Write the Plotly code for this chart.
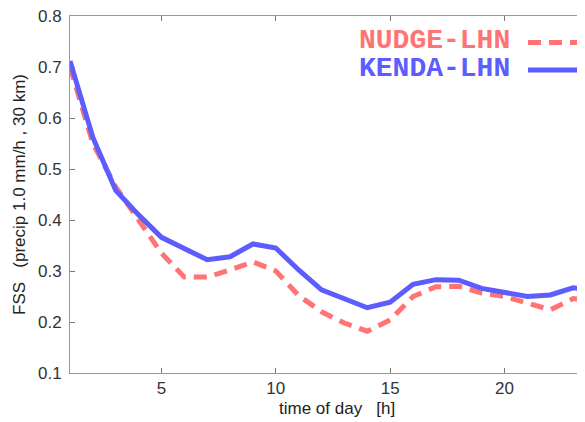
import plotly.graph_objects as go

hours = list(range(1, 25))
nudge_lhn = [0.700, 0.550, 0.465, 0.400, 0.335, 0.288, 0.288, 0.302, 0.318, 0.300,
             0.252, 0.220, 0.198, 0.182, 0.204, 0.250, 0.269, 0.270, 0.257, 0.250,
             0.236, 0.224, 0.246, 0.242]
kenda_lhn = [0.712, 0.562, 0.458, 0.410, 0.366, 0.345, 0.322, 0.328, 0.353, 0.345,
             0.302, 0.263, 0.245, 0.228, 0.239, 0.274, 0.283, 0.282, 0.266, 0.258,
             0.250, 0.253, 0.267, 0.262]
series_names = ["NUDGE-LHN", "KENDA-LHN"]
red = "#FF7373"
blue = "#5C5CFF"

fig = go.Figure()
fig.add_trace(go.Scatter(x=hours, y=nudge_lhn, mode="lines", name=series_names[0],
                         line=dict(color=red, width=5, dash="13px,8px"), showlegend=False))
fig.add_trace(go.Scatter(x=hours, y=kenda_lhn, mode="lines", name=series_names[1],
                         line=dict(color=blue, width=5), showlegend=False))

tickfont = dict(family="Liberation Sans, Arial, sans-serif", size=17, color="#333333")
axis_common = dict(showgrid=False, zeroline=False, showline=True, linecolor="#999999",
                   linewidth=1, ticks="inside", ticklen=5, tickcolor="#777777",
                   tickfont=tickfont, automargin=False, ticklabeloverflow="allow")
fig.update_xaxes(range=[1, 23.52], tickvals=[5, 10, 15, 20], mirror="ticks", **axis_common)
fig.update_yaxes(range=[0.1, 0.8], tickvals=[0.1, 0.2, 0.3, 0.4, 0.5, 0.6, 0.7, 0.8],
                 tickformat=".1f", ticklabelstandoff=4,
                 title=dict(text="FSS\u00a0\u00a0\u00a0(precip 1.0 mm/h , 30 km)",
                            font=dict(family="Liberation Sans, Arial, sans-serif", size=17, color="#222222"),
                            standoff=8),
                 **axis_common)

fig.add_annotation(text="time of day\u00a0\u00a0\u00a0[h]", xref="paper", yref="paper",
                   x=(337 - 70) / 515, y=-35 / 357, xanchor="center", yanchor="middle",
                   showarrow=False,
                   font=dict(family="Liberation Sans, Arial, sans-serif", size=17, color="#222222"))

legfont = dict(family="Courier New, Liberation Mono, monospace", size=28)
fig.add_annotation(text="<b>" + series_names[0] + "</b>", xref="paper", yref="paper",
                   x=(512 - 70) / 515, y=(373 - 41) / 357, xanchor="right", yanchor="middle",
                   showarrow=False, font=dict(color=red, **legfont))
fig.add_annotation(text="<b>" + series_names[1] + "</b>", xref="paper", yref="paper",
                   x=(512 - 70) / 515, y=(373 - 68) / 357, xanchor="right", yanchor="middle",
                   showarrow=False, font=dict(color=blue, **legfont))
fig.add_shape(type="line", xref="paper", yref="paper",
              x0=(528 - 70) / 515, x1=(600 - 70) / 515, y0=(373 - 42.5) / 357, y1=(373 - 42.5) / 357,
              line=dict(color=red, width=5, dash="13px,8px"))
fig.add_shape(type="line", xref="paper", yref="paper",
              x0=(528 - 70) / 515, x1=(600 - 70) / 515, y0=(373 - 70) / 357, y1=(373 - 70) / 357,
              line=dict(color=blue, width=5))

# The page body adds an 8px margin, so the figure is drawn 8px smaller/shifted.
fig.update_layout(width=577, height=414, margin=dict(l=62, r=0, t=8, b=49),
                  plot_bgcolor="white", paper_bgcolor="white")
fig.write_html("out.html")
